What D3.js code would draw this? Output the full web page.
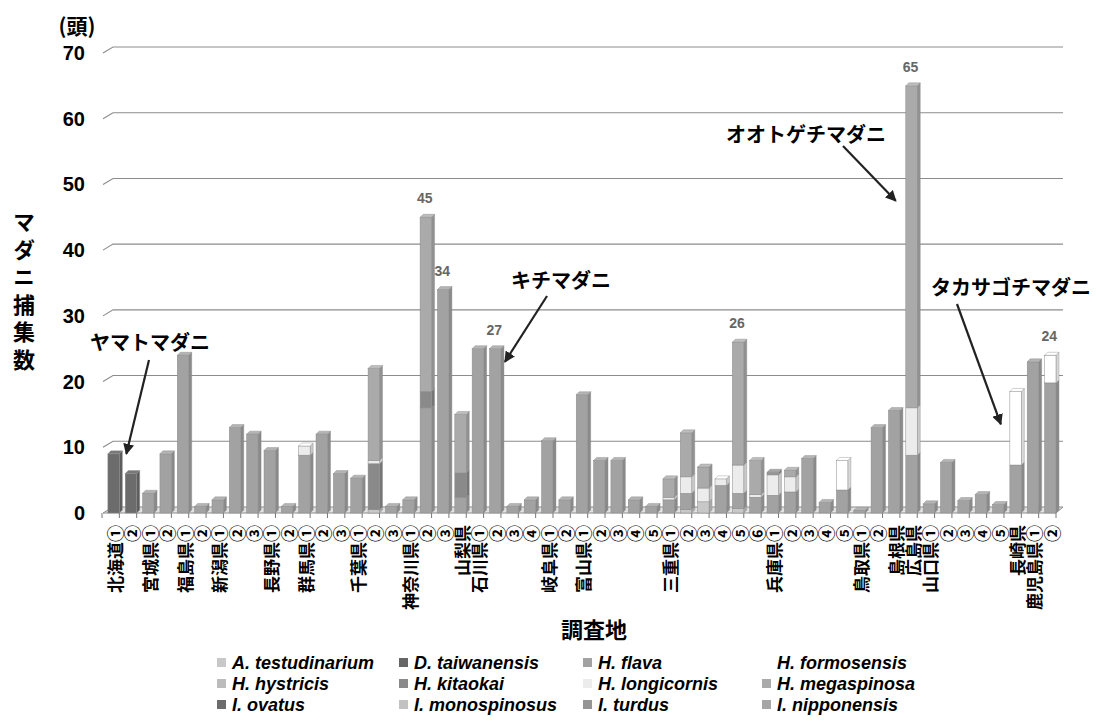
<!DOCTYPE html>
<html>
<head>
<meta charset="utf-8">
<script src="https://cdn.jsdelivr.net/npm/d3@7"></script>
<style>
  body { margin: 0; background: #fff; }
  text { font-family: "Liberation Sans", Arial, sans-serif; }
  .jp { font-family: "Noto Sans CJK JP", sans-serif; }
</style>
</head>
<body>
<div id="chart"></div>
<script>
// survey sites (x categories)
const sites = [
  "北海道①", "②", "宮城県①", "②", "福島県①", "②", "新潟県①", "②", "③", "長野県①",
  "②", "群馬県①", "②", "③", "千葉県①", "②", "③", "神奈川県①", "②", "③",
  "山梨県", "石川県①", "②", "③", "④", "岐阜県①", "②", "富山県①", "②", "③",
  "④", "⑤", "三重県①", "②", "③", "④", "⑤", "⑥", "兵庫県①", "②",
  "③", "④", "⑤", "鳥取県①", "②", "島根県", "広島県", "山口県①", "②", "③",
  "④", "⑤", "長崎県", "鹿児島県①", "②"
];

// species, in stacking / legend order
const species = [
  "A. testudinarium", "D. taiwanensis", "H. flava", "H. formosensis",
  "H. hystricis", "H. kitaokai", "H. longicornis", "H. megaspinosa",
  "I. ovatus", "I. monospinosus", "I. turdus", "I. nipponensis"
];
const speciesColors = [
  "#c8c8c8", "#666666", "#a2a2a2", "#ffffff",
  "#bcbcbc", "#8a8a8a", "#ececec", "#aaaaaa",
  "#6c6c6c", "#c2c2c2", "#959595", "#a6a6a6"
];

// counts per site for each species
const aTestudinarium = [
  0, 0, 0, 0, 0, 0, 0, 0, 0, 0,
  0, 0, 0, 0, 0, 0.5, 0, 0, 0, 0,
  0, 0, 0, 0, 0, 0, 0, 0, 0, 0,
  0, 0, 0, 0.5, 1.7, 0, 0.7, 0, 0, 0,
  0, 0, 0, 0, 0, 0, 0, 0, 0, 0,
  0, 0, 0, 0, 0];
const dTaiwanensis = [
  0, 0, 0, 0, 0, 0, 0, 0, 0, 0,
  0, 0, 0, 0, 0, 0, 0, 0, 0, 0,
  0, 0, 0, 0, 0, 0, 0, 0, 0, 0,
  0, 0, 0, 0, 0, 0, 0, 0, 0, 0,
  0, 0, 0, 0, 0, 0, 0, 0, 0, 0,
  0, 0, 0, 0, 0];
const hFlava = [
  0, 0, 3, 9, 24, 1, 2, 13, 12, 9.5,
  1, 8.8, 12, 6, 5.3, 0, 1, 2, 16, 34,
  2.4, 25, 25, 1, 2, 11, 2, 18, 8, 8,
  2, 1, 2, 2.5, 0, 4.2, 2.3, 2.4, 2.7, 3.2,
  8.3, 1.6, 3.5, 0.4, 13, 15.6, 8.8, 1.4, 7.7, 1.9,
  2.8, 1.3, 7.3, 23, 19.8];
const hFormosensis = [
  0, 0, 0, 0, 0, 0, 0, 0, 0, 0,
  0, 0, 0, 0, 0, 0, 0, 0, 0, 0,
  0, 0, 0, 0, 0, 0, 0, 0, 0, 0,
  0, 0, 0, 0, 0, 0, 0, 0, 0, 0,
  0, 0, 4.5, 0, 0, 0, 0, 0, 0, 0,
  0, 0, 11.2, 0, 4.2];
const hHystricis = [
  0, 0, 0, 0, 0, 0, 0, 0, 0, 0,
  0, 0, 0, 0, 0, 0, 0, 0, 0, 0,
  0, 0, 0, 0, 0, 0, 0, 0, 0, 0,
  0, 0, 0, 0, 0, 0, 0, 0, 0, 0,
  0, 0, 0, 0, 0, 0, 0, 0, 0, 0,
  0, 0, 0, 0, 0];
const hKitaokai = [
  0, 0, 0, 0, 0, 0, 0, 0, 0, 0,
  0, 0, 0, 0, 0, 7, 0, 0, 2.5, 0,
  3.7, 0, 0, 0, 0, 0, 0, 0, 0, 0,
  0, 0, 0, 0, 0, 0, 0, 0, 0, 0,
  0, 0, 0, 0, 0, 0, 0, 0, 0, 0,
  0, 0, 0, 0, 0];
const hLongicornis = [
  0, 0, 0, 0, 0, 0, 0, 0, 0, 0,
  0, 1.4, 0, 0, 0, 0.5, 0, 0, 0, 0,
  0, 0, 0, 0, 0, 0, 0, 0, 0, 0,
  0, 0, 0.4, 2.5, 2.1, 1.0, 4.3, 0.4, 3.1, 2.3,
  0, 0, 0, 0, 0, 0, 7.2, 0, 0, 0,
  0, 0, 0, 0, 0];
const hMegaspinosa = [
  0, 0, 0, 0, 0, 0, 0, 0, 0, 0,
  0, 0, 0, 0, 0, 14, 0, 0, 26.5, 0,
  8.9, 0, 0, 0, 0, 0, 0, 0, 0, 0,
  0, 0, 2.8, 6.7, 3.2, 0, 18.7, 5.2, 0, 1.0,
  0, 0, 0, 0, 0, 0, 49, 0, 0, 0,
  0, 0, 0, 0, 0];
const iOvatus = [
  9, 6, 0, 0, 0, 0, 0, 0, 0, 0,
  0, 0, 0, 0, 0, 0, 0, 0, 0, 0,
  0, 0, 0, 0, 0, 0, 0, 0, 0, 0,
  0, 0, 0, 0, 0, 0, 0, 0, 0, 0,
  0, 0, 0, 0, 0, 0, 0, 0, 0, 0,
  0, 0, 0, 0, 0];
const iMonospinosus = [
  0, 0, 0, 0, 0, 0, 0, 0, 0, 0,
  0, 0, 0, 0, 0, 0, 0, 0, 0, 0,
  0, 0, 0, 0, 0, 0, 0, 0, 0, 0,
  0, 0, 0, 0, 0, 0, 0, 0, 0, 0,
  0, 0, 0, 0, 0, 0, 0, 0, 0, 0,
  0, 0, 0, 0, 0];
const iTurdus = [
  0, 0, 0, 0, 0, 0, 0, 0, 0, 0,
  0, 0, 0, 0, 0, 0, 0, 0, 0, 0,
  0, 0, 0, 0, 0, 0, 0, 0, 0, 0,
  0, 0, 0, 0, 0, 0, 0, 0, 0.4, 0,
  0, 0, 0, 0, 0, 0, 0, 0, 0, 0,
  0, 0, 0, 0, 0];
const iNipponensis = [
  0, 0, 0, 0, 0, 0, 0, 0, 0, 0,
  0, 0, 0, 0, 0, 0, 0, 0, 0, 0,
  0, 0, 0, 0, 0, 0, 0, 0, 0, 0,
  0, 0, 0, 0, 0, 0, 0, 0, 0, 0,
  0, 0, 0, 0, 0, 0, 0, 0, 0, 0,
  0, 0, 0, 0, 0];

const seriesValues = [aTestudinarium, dTaiwanensis, hFlava, hFormosensis, hHystricis, hKitaokai,
  hLongicornis, hMegaspinosa, iOvatus, iMonospinosus, iTurdus, iNipponensis];

const yTicks = [0, 10, 20, 30, 40, 50, 60, 70];

// totals printed above some bars
const valueLabelSites = [18, 19, 22, 36, 46, 54];
const valueLabelTexts = ["45", "34", "27", "26", "65", "24"];

// species call-outs: text, target site, value at the arrow tip
const calloutTexts = ["ヤマトマダニ", "キチマダニ", "オオトゲチマダニ", "タカサゴチマダニ"];
const calloutSites = [0, 22, 46, 52];
const calloutTipValues = [9, 23, 47.5, 13.5];

// ---------------- drawing ----------------
const width = 1097, height = 727;
const svg = d3.select("#chart").append("svg")
  .attr("width", width).attr("height", height);

const table = sites.map((s, i) => {
  const row = { i: i };
  species.forEach((sp, k) => row[sp] = seriesValues[k][i]);
  return row;
});
const stacked = d3.stack().keys(species)(table);
const totals = table.map(r => d3.sum(species, sp => r[sp]));

const x = d3.scaleBand().domain(d3.range(sites.length)).range([102, 1056]);
const y = d3.scaleLinear().domain([0, 70]).range([513, 53]);
const barOff = x.bandwidth() * 0.34, barW = x.bandwidth() * 0.66;
const dx = 3, dy = 3;          // bar depth
const wx = 10, wy = 6;         // wall depth
const color = d3.scaleOrdinal().domain(species).range(speciesColors);

// back wall gridlines
svg.append("g").selectAll("path")
  .data(yTicks.filter(v => v > 0))
  .join("path")
  .attr("d", v => `M103,${y(v)}L${103 + wx},${y(v) - wy}L1063,${y(v) - wy}`)
  .attr("fill", "none").attr("stroke", "#8c8c8c").attr("stroke-width", 1.1);

// floor
svg.append("path")
  .attr("d", `M103,${y(0)}L${103 + wx},${y(0) - wy}L1063,${y(0) - wy}L${1056},${y(0)}Z`)
  .attr("fill", "#e2e2e2").attr("stroke", "#8c8c8c").attr("stroke-width", 1);

// tick marks on the floor edge
svg.append("g").selectAll("line")
  .data(d3.range(sites.length + 1))
  .join("line")
  .attr("x1", i => 102 + i * x.step()).attr("x2", i => 102 + i * x.step())
  .attr("y1", y(0)).attr("y2", y(0) + 5)
  .attr("stroke", "#777");

// y tick labels
svg.append("g").selectAll("text")
  .data(yTicks)
  .join("text")
  .attr("x", 85).attr("y", v => y(v))
  .attr("text-anchor", "end").attr("dominant-baseline", "central")
  .style("font-size", "20px").style("font-weight", "bold")
  .text(d => d);

// stacked 3D bars
const bars = svg.append("g");
stacked.forEach(layer => {
  const c = color(layer.key);
  layer.forEach((d, i) => {
    if (d[1] - d[0] <= 0) return;
    const x0 = x(i) + barOff, x1 = x0 + barW;
    const yTop = y(d[1]), yBot = y(d[0]);
    bars.append("path")
      .attr("d", `M${x1},${yTop}L${x1 + dx},${yTop - dy}L${x1 + dx},${yBot - dy}L${x1},${yBot}Z`)
      .attr("fill", d3.color(c).darker(0.45)).attr("stroke", "#888").attr("stroke-width", 0.4);
    bars.append("rect")
      .attr("x", x0).attr("y", yTop).attr("width", barW).attr("height", yBot - yTop)
      .attr("fill", c).attr("stroke", "#8a8a8a").attr("stroke-width", 0.5);
  });
});
// top faces
bars.selectAll(".top")
  .data(totals)
  .join("path")
  .attr("class", "top")
  .attr("d", (t, i) => {
    const x0 = x(i) + barOff, x1 = x0 + barW, yt = y(t);
    return `M${x0},${yt}L${x0 + dx},${yt - dy}L${x1 + dx},${yt - dy}L${x1},${yt}Z`;
  })
  .attr("fill", (t, i) => {
    const top = stacked.filter(l => l[i][1] - l[i][0] > 0).pop();
    return d3.color(color(top.key)).brighter(0.3);
  })
  .attr("stroke", "#888").attr("stroke-width", 0.4);

// value labels
svg.append("g").selectAll("text")
  .data(valueLabelSites)
  .join("text")
  .attr("x", i => x(i) + barOff + barW / 2 - 1)
  .attr("y", i => y(totals[i]) - 19)
  .attr("text-anchor", "middle").attr("dominant-baseline", "central")
  .style("font-size", "14px").style("font-weight", "bold").attr("fill", "#666")
  .text((i, k) => valueLabelTexts[k]);

// x labels (rotated)
svg.append("g").selectAll("text")
  .data(sites)
  .join("text")
  .attr("class", "jp")
  .attr("transform", (s, i) => `translate(${x(i) + barOff + barW / 2 + 1},525) rotate(-90)`)
  .attr("text-anchor", "end").attr("dominant-baseline", "central")
  .style("font-size", "17px").style("font-weight", "bold")
  .text(d => d);

// axis titles
svg.append("text").attr("class", "jp")
  .attr("x", 77).attr("y", 25).attr("text-anchor", "middle").attr("dominant-baseline", "central")
  .style("font-size", "21px").style("font-weight", "bold").text("(頭)");

svg.append("text").attr("class", "jp")
  .attr("x", 24).attr("y", 211)
  .style("writing-mode", "vertical-rl").style("text-orientation", "upright")
  .style("letter-spacing", "5.5px")
  .style("font-size", "22px").style("font-weight", "bold")
  .text("マダニ捕集数");

svg.append("text").attr("class", "jp")
  .attr("x", 594).attr("y", 628).attr("text-anchor", "middle").attr("dominant-baseline", "central")
  .style("font-size", "22px").style("font-weight", "bold").text("調査地");

// call-outs with arrows
svg.append("defs").append("marker")
  .attr("id", "head").attr("viewBox", "0 0 10 10").attr("refX", 9).attr("refY", 5)
  .attr("markerWidth", 5).attr("markerHeight", 5).attr("orient", "auto")
  .append("path").attr("d", "M0,0L10,5L0,10Z").attr("fill", "#222");

const calloutTextPos = [[150, 341], [561, 279], [806, 133], [1011, 286]];
const calloutTails = [[149, 360], [547, 296], [843, 146], [957, 304]];
const calloutTipDx = [7, 4, -10, -9];

calloutTexts.forEach((t, k) => {
  const i = calloutSites[k];
  const tipX = x(i) + (calloutTipDx[k] > 0 ? barOff + barW + calloutTipDx[k] : barOff + calloutTipDx[k]);
  const tipY = y(calloutTipValues[k]);
  svg.append("line")
    .attr("x1", calloutTails[k][0]).attr("y1", calloutTails[k][1])
    .attr("x2", tipX).attr("y2", tipY)
    .attr("stroke", "#222").attr("stroke-width", 2.2)
    .attr("marker-end", "url(#head)");
  svg.append("text").attr("class", "jp")
    .attr("x", calloutTextPos[k][0]).attr("y", calloutTextPos[k][1])
    .attr("text-anchor", "middle").attr("dominant-baseline", "central")
    .style("font-size", "20px").style("font-weight", "bold")
    .text(t);
});

// legend
const colX = [232, 414, 598, 777];
const rowY = [663, 684, 705];
const legend = svg.append("g").selectAll("g")
  .data(species)
  .join("g")
  .attr("transform", (s, k) => `translate(${colX[k % 4]},${rowY[Math.floor(k / 4)]})`);
legend.append("rect")
  .attr("x", -15).attr("y", -5).attr("width", 9).attr("height", 9)
  .attr("fill", d => color(d));
legend.append("text")
  .attr("x", 0).attr("y", 0).attr("dominant-baseline", "central")
  .style("font-size", "18px").style("font-weight", "bold").style("font-style", "italic")
  .text(d => d);
</script>
</body>
</html>
